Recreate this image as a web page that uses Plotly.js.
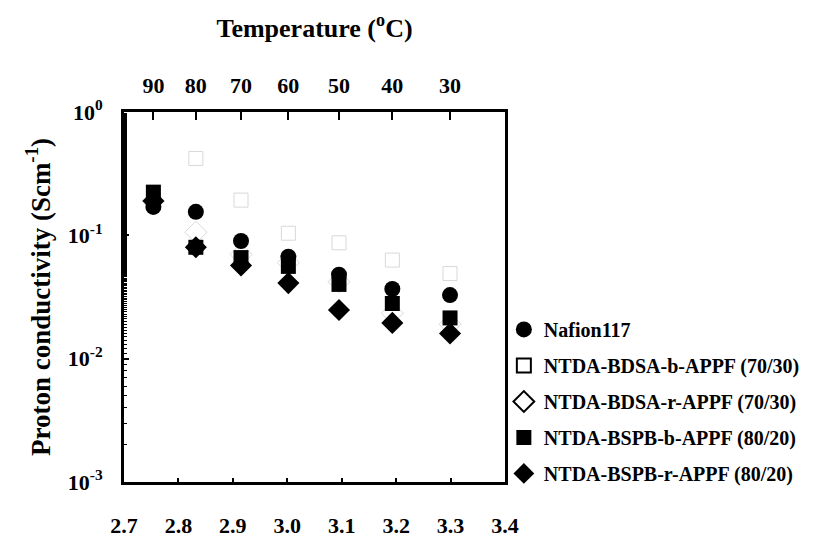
<!DOCTYPE html>
<html>
<head>
<meta charset="utf-8">
<script src="https://cdn.plot.ly/plotly-3.0.1.min.js"></script>
<style>html,body{margin:0;padding:0;background:#fff;}</style>
</head>
<body>
<div id="chart" style="width:817px;height:553px;"></div>
<script>
// 1000/T (K^-1) for each measurement temperature
const temperatures = [90, 80, 70, 60, 50, 40, 30];
const invT = [2.754, 2.832, 2.915, 3.002, 3.095, 3.193, 3.299];

const nafion117 = [0.170, 0.155, 0.090, 0.067, 0.048, 0.0367, 0.0328];
const bdsaBlock = [0.22, 0.42, 0.193, 0.104, 0.087, 0.063, 0.049];
const bdsaRandom = [0.19, 0.106, 0.070, 0.060, 0.042, 0.0234, 0.019];
const bspbBlock = [0.224, 0.080, 0.066, 0.056, 0.040, 0.028, 0.0214];
const bspbRandom = [0.19, 0.080, 0.057, 0.041, 0.0248, 0.0195, 0.016];

const seriesNames = ["Nafion117", "NTDA-BDSA-b-APPF (70/30)", "NTDA-BDSA-r-APPF (70/30)",
                     "NTDA-BSPB-b-APPF (80/20)", "NTDA-BSPB-r-APPF (80/20)"];
const bottomTicks = [2.7, 2.8, 2.9, 3.0, 3.1, 3.2, 3.3, 3.4];
const yTickVals = [0.001, 0.01, 0.1, 1];
const yTickText = ["10<sup>-3</sup>", "10<sup>-2</sup>", "10<sup>-1</sup>", "10<sup>0</sup>"];

const FONT = "Liberation Serif, Times New Roman, serif";
const styles = [
  {symbol: "circle", size: 16, color: "#000", line: {width: 0}},
  {symbol: "square-open", size: 14, color: "#000", line: {width: 2, color: "#000"}},
  {symbol: "diamond-open", size: 17, color: "#000", line: {width: 2, color: "#000"}},
  {symbol: "square", size: 15, color: "#000", line: {width: 0}},
  {symbol: "diamond", size: 17, color: "#000", line: {width: 0}}
];
const faint = [
  null,
  {symbol: "square-open", size: 14, color: "#d8d8d8", line: {width: 1, color: "#d8d8d8"}},
  {symbol: "diamond-open", size: 17, color: "#d8d8d8", line: {width: 1, color: "#d8d8d8"}},
  null, null
];
const values = [nafion117, bdsaBlock, bdsaRandom, bspbBlock, bspbRandom];

const traces = [];
// data traces (open ones drawn underneath)
[1, 2, 4, 3, 0].forEach(i => {
  traces.push({
    type: "scatter", mode: "markers", x: invT, y: values[i],
    marker: faint[i] || styles[i], showlegend: false, hoverinfo: "x+y", name: seriesNames[i]
  });
});
// legend entries
for (let i = 0; i < 5; i++) {
  traces.push({
    type: "scatter", mode: "markers", x: [null], y: [null],
    marker: styles[i], name: seriesNames[i], legendgroup: "g" + i, showlegend: true
  });
}
// attach top axis
traces.push({type: "scatter", mode: "markers", x: [null], y: [null], xaxis: "x2", yaxis: "y", showlegend: false});

const axisFont = {family: FONT, size: 22, color: "#000", weight: "bold"};

const layout = {
  width: 817, height: 553,
  margin: {l: 124, r: 303, t: 112, b: 71},
  paper_bgcolor: "#fff", plot_bgcolor: "#fff",
  font: {family: FONT, color: "#000"},
  showlegend: true,
  legend: {
    x: 0.997, xanchor: "left", y: 0.465, yanchor: "top",
    font: {family: FONT, size: 20, color: "#000", weight: "bold"},
    bgcolor: "rgba(0,0,0,0)", traceorder: "grouped", tracegroupgap: 7,
    itemsizing: "trace"
  },
  xaxis: {
    range: [2.7, 3.4], tickvals: bottomTicks, ticktext: bottomTicks.map(v => v.toFixed(1)),
    ticks: "inside", ticklen: 4, tickwidth: 2, tickcolor: "#000",
    showline: true, linewidth: 3, linecolor: "#000", mirror: false,
    showgrid: false, zeroline: false, tickfont: axisFont, ticklabelstandoff: 22
  },
  xaxis2: {
    overlaying: "x", side: "top", anchor: "y", range: [2.7, 3.4],
    tickvals: invT, ticktext: temperatures.map(String),
    ticks: "inside", ticklen: 8, tickwidth: 2, tickcolor: "#000",
    showline: true, linewidth: 3, linecolor: "#000",
    showgrid: false, zeroline: false, tickfont: axisFont, ticklabelstandoff: 7,
    title: {text: "Temperature (<sup>o</sup>C)", font: {family: FONT, size: 26, color: "#000", weight: "bold"}, standoff: 29}
  },
  yaxis: {
    type: "log", range: [-3, 0], tickvals: yTickVals, ticktext: yTickText,
    ticks: "inside", ticklen: 5, tickwidth: 2, tickcolor: "#000",
    minor: {ticks: "inside", ticklen: 3, tickwidth: 1, tickcolor: "#000"},
    showline: true, linewidth: 3, linecolor: "#000", mirror: true,
    showgrid: false, zeroline: false, tickfont: axisFont, ticklabelstandoff: 14,
    title: {text: "Proton conductivity (Scm<sup>-1</sup>)", font: {family: FONT, size: 27, color: "#000", weight: "bold"}, standoff: 10}
  }
};

Plotly.newPlot("chart", traces, layout, {displayModeBar: false, staticPlot: true});
</script>
</body>
</html>
